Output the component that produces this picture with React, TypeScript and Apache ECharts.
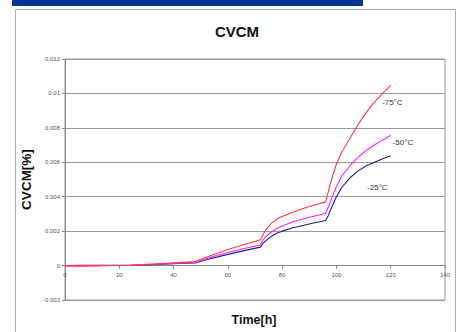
import React, { useEffect, useRef } from "react";
import * as echarts from "echarts";

const timeH = [0, 6, 12, 18, 24, 30, 36, 42, 48, 54, 60, 66, 72, 73, 74, 76, 78, 80, 84, 88, 92, 96, 97, 98, 100, 102, 105, 108, 111, 114, 117, 120];
const cvcmM75 = [-0.00003, -0.00003, -0.00002, 0.0, 0.00002, 0.00007, 0.00012, 0.00017, 0.00023, 0.0006, 0.00093, 0.00122, 0.0015, 0.0018, 0.00208, 0.00245, 0.0027, 0.00285, 0.0031, 0.00333, 0.00352, 0.0037, 0.0043, 0.0049, 0.0059, 0.0066, 0.0074, 0.0082, 0.0089, 0.0095, 0.01, 0.01047];
const cvcmM50 = [0, 0, 0, 0, 0.00001, 0.00005, 0.0001, 0.00014, 0.00018, 0.0005, 0.00076, 0.00099, 0.0012, 0.0015, 0.00168, 0.00195, 0.00215, 0.0023, 0.00255, 0.00272, 0.00288, 0.00303, 0.0034, 0.0038, 0.0046, 0.0052, 0.0058, 0.0063, 0.0067, 0.007, 0.0073, 0.00756];
const cvcmM25 = [0, 0.00001, 0.00001, 0.00001, 0.00002, 0.00004, 0.00008, 0.00012, 0.00015, 0.00042, 0.00065, 0.00087, 0.00107, 0.0013, 0.00145, 0.0017, 0.00188, 0.002, 0.0022, 0.00234, 0.00249, 0.00262, 0.0029, 0.0033, 0.004, 0.00455, 0.0051, 0.0055, 0.0058, 0.006, 0.0062, 0.00638];
const seriesNames = ["-75°C", "-50°C", "-25°C"];
const seriesColors = ["#ff3b3b", "#ff1fff", "#1f1f8f"];
const labelCoords: [number, number][] = [[116.8, 0.00946], [120.7, 0.00713], [111.3, 0.00452]];

export default function App() {
  const ref = useRef<HTMLDivElement>(null);
  useEffect(() => {
    const chart = echarts.init(ref.current!, null, { renderer: "svg" });
    const all = [cvcmM75, cvcmM50, cvcmM25];
    const fmt = (v: number) => String(parseFloat(v.toFixed(4)));
    const plotTop = 59;
    const plotBottom = 300;
    const yMin = -0.002;
    const yMax = 0.012;
    const zeroOffset = -((plotBottom - plotTop) * (0 - yMin)) / (yMax - yMin);
    chart.setOption({
      animation: false,
      backgroundColor: "#fff",
      title: {
        text: "CVCM",
        left: 232,
        top: 19,
        textAlign: "center",
        textStyle: { fontFamily: "Liberation Sans", fontWeight: "bold", fontSize: 15, color: "#111" },
      },
      graphic: [
        { type: "rect", shape: { x: 12, y: 0, width: 351, height: 6 }, style: { fill: "#003591" }, z: 100 },
        { type: "rect", shape: { x: 15.5, y: 9.5, width: 440, height: 340 }, style: { fill: "none", stroke: "#b0b0b0", lineWidth: 1 }, z: 100 },
        {
          type: "text",
          x: 254,
          y: 320,
          style: { text: "Time[h]", fontFamily: "Liberation Sans", fontWeight: "bold", fontSize: 12.5, fill: "#111", align: "center", verticalAlign: "middle" },
          z: 100,
        },
      ],
      grid: { left: 65, right: 15, top: plotTop, bottom: 332 - plotBottom, show: true, borderColor: "#999", borderWidth: 1 },
      xAxis: {
        type: "value",
        min: 0,
        max: 140,
        interval: 20,
        offset: zeroOffset,
        axisLine: { onZero: false, lineStyle: { color: "#888" } },
        axisTick: { show: true, length: 3, lineStyle: { color: "#888" } },
        axisLabel: { fontSize: 6, color: "#555", margin: 6, fontFamily: "Liberation Sans" },
        splitLine: { show: false },
      },
      yAxis: {
        type: "value",
        min: yMin,
        max: yMax,
        interval: 0.002,
        name: "CVCM[%]",
        nameLocation: "middle",
        nameGap: 32,
        nameMoveOverlap: false,
        nameTextStyle: { fontFamily: "Liberation Sans", fontWeight: "bold", fontSize: 13.5, color: "#111" },
        axisLine: { show: true, onZero: false, lineStyle: { color: "#888" } },
        axisTick: { show: true, length: 3, lineStyle: { color: "#888" } },
        axisLabel: { fontSize: 6, color: "#555", margin: 5, fontFamily: "Liberation Sans", formatter: fmt },
        splitLine: { show: true, lineStyle: { color: "#999", width: 1 } },
      },
      series: all.map((vals, i) => ({
        type: "line",
        name: seriesNames[i],
        data: timeH.map((t, j) => [t, vals[j]]),
        showSymbol: false,
        smooth: false,
        lineStyle: { color: seriesColors[i], width: 1.1 },
        z: 3 - i,
        markPoint: {
          symbol: "circle",
          symbolSize: 0,
          data: [{ coord: labelCoords[i] }],
          label: {
            show: true,
            formatter: seriesNames[i],
            position: "inside",
            align: "left",
            verticalAlign: "middle",
            fontSize: 8,
            color: "#333",
            fontFamily: "Liberation Sans",
          },
        },
      })),
    });
    return () => chart.dispose();
  }, []);
  return <div ref={ref} style={{ position: "fixed", left: 0, top: 0, width: 460, height: 332 }} />;
}
